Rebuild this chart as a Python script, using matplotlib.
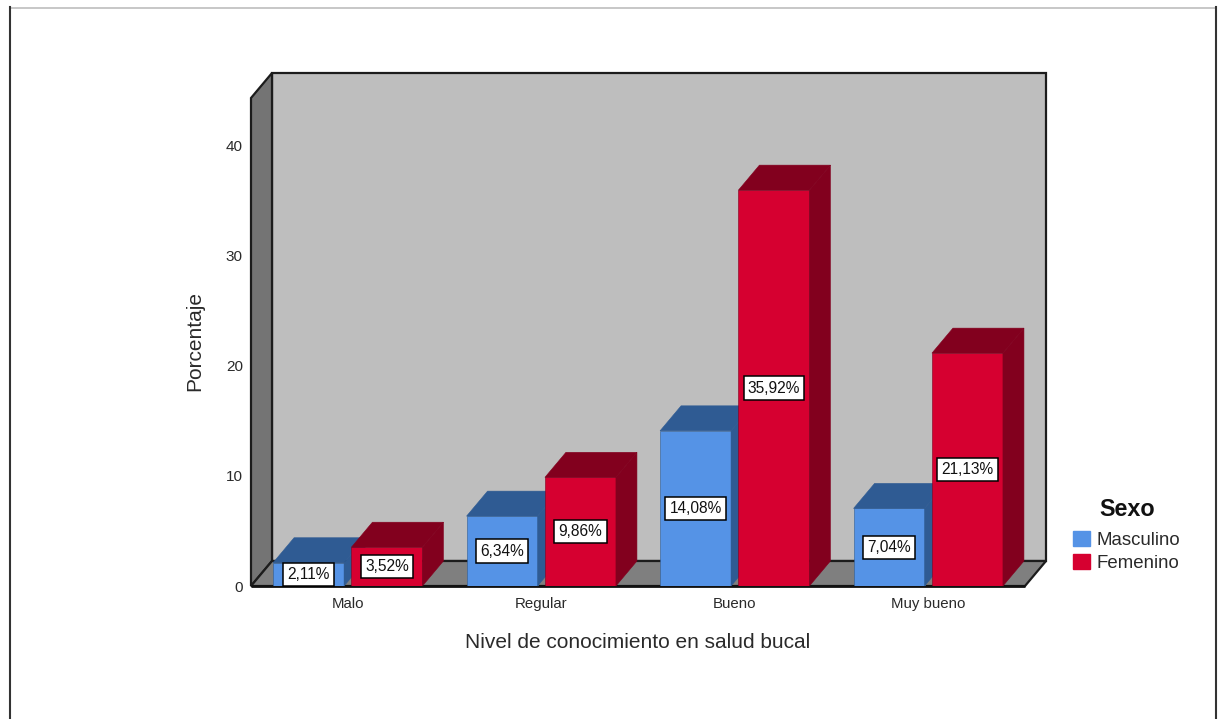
import matplotlib
matplotlib.use("Agg")
import matplotlib.pyplot as plt
from matplotlib.lines import Line2D
from matplotlib.patches import Patch, Polygon

plt.rcParams['font.family'] = ['Liberation Sans', 'DejaVu Sans']

# data
categories = ["Malo", "Regular", "Bueno", "Muy bueno"]
masculino = [2.11, 6.34, 14.08, 7.04]
femenino = [3.52, 9.86, 35.92, 21.13]
yticks = [0, 10, 20, 30, 40]

W, H = 1219, 719
YTOP = 44.28
DX = 21 / 193.5   # depth of the 3d box, in category units
DY = 25 / 11.02   # depth in percent units
BAR_W = 0.367
BAR_OFF = 0.2025

BLUE, BLUE_D = "#5593E6", "#2F5B93"
RED, RED_D = "#D60030", "#82001E"
TEXT = "#2a2a2a"


def frame_line(x0, y0, x1, y1, color, lw=1.5):
    fig.add_artist(Line2D([x0 / W, x1 / W], [1 - y0 / H, 1 - y1 / H], color=color, lw=lw))


def bar3d(ax, x, v, front, dark):
    l, r = x - BAR_W / 2, x + BAR_W / 2
    ax.bar(x, v, BAR_W, color=front, edgecolor=dark, linewidth=0.4, zorder=3)
    top = [(l, v), (r, v), (r + DX, v + DY), (l + DX, v + DY)]
    side = [(r, 0), (r + DX, DY), (r + DX, v + DY), (r, v)]
    ax.add_patch(Polygon(top, fc=dark, ec=dark, lw=0.4, zorder=3, clip_on=False))
    ax.add_patch(Polygon(side, fc=dark, ec=dark, lw=0.4, zorder=3, clip_on=False))
    ax.text(x, v / 2, f"{v:.2f}%".replace(".", ","), ha="center", va="center",
            fontsize=11.2, color="#111111", zorder=5,
            bbox=dict(boxstyle="square,pad=0.27", fc="white", ec="black", lw=1.1))


fig = plt.figure(figsize=(W / 100, H / 100), dpi=100, facecolor="white")
ax = fig.add_axes([251 / W, (H - 586) / H, 774 / W, 488 / H])
ax.set_xlim(-0.5, 3.5)
ax.set_ylim(0, YTOP)
ax.patch.set_visible(False)
for s in ax.spines.values():
    s.set_visible(False)

# walls
x0, x1 = -0.5, 3.5
wall_ec = "#1c1c1c"
ax.add_patch(Polygon([(x0 + DX, DY), (x1 + DX, DY), (x1 + DX, YTOP + DY), (x0 + DX, YTOP + DY)],
                     fc="#BEBEBE", ec=wall_ec, lw=1.6, zorder=1, clip_on=False))
ax.add_patch(Polygon([(x0, 0), (x0 + DX, DY), (x0 + DX, YTOP + DY), (x0, YTOP)],
                     fc="#747474", ec=wall_ec, lw=1.6, zorder=1, clip_on=False))
ax.add_patch(Polygon([(x0, 0), (x1, 0), (x1 + DX, DY), (x0 + DX, DY)],
                     fc="#7F7F7F", ec=wall_ec, lw=1.6, zorder=2, clip_on=False))

# front axis line goes under the bars
ax.plot([x0, x1], [0, 0], color="#111111", lw=2, zorder=2.5, clip_on=False, solid_capstyle="butt")

for i in range(len(categories)):
    bar3d(ax, i - BAR_OFF, masculino[i], BLUE, BLUE_D)
    bar3d(ax, i + BAR_OFF, femenino[i], RED, RED_D)

ax.set_xticks(range(len(categories)), categories)
ax.set_yticks(yticks)
ax.tick_params(axis="x", length=0, pad=15.8, labelsize=10.8, labelcolor=TEXT)
ax.tick_params(axis="y", length=0, pad=5.8, labelsize=11, labelcolor=TEXT)
for lab in ax.get_xticklabels():
    lab.set_verticalalignment("baseline")

fig.text(638 / W, 1 - 643 / H, "Nivel de conocimiento en salud bucal", ha="center", va="center",
         fontsize=15, color=TEXT)
fig.text(195 / W, 1 - 341 / H, "Porcentaje", ha="center", va="center", rotation=90,
         fontsize=15, color=TEXT)

# legend
handles = [Patch(fc=BLUE, ec=BLUE, label="Masculino"), Patch(fc=RED, ec=RED, label="Femenino")]
leg = fig.legend(handles=handles, title="Sexo", loc="upper left",
                 bbox_to_anchor=(1060 / W, 1 - 485 / H), frameon=False,
                 fontsize=13.4, handlelength=0.93, handleheight=0.9, handletextpad=0.35,
                 labelspacing=0.25, borderpad=0.2, labelcolor=TEXT)
leg.get_title().set_fontsize(16.8)
leg.get_title().set_fontweight("bold")
leg.get_title().set_color("#111111")
leg._legend_box.sep = 7.2

# outer page frame
frame_line(9.5, 7.5, 1216, 7.5, "#BDBDBD", 1.2)
frame_line(9.5, 7, 9.5, 719, "#333333", 1.5)
frame_line(1216, 7, 1216, 719, "#333333", 1.5)

fig.savefig("out.png", dpi=100)
